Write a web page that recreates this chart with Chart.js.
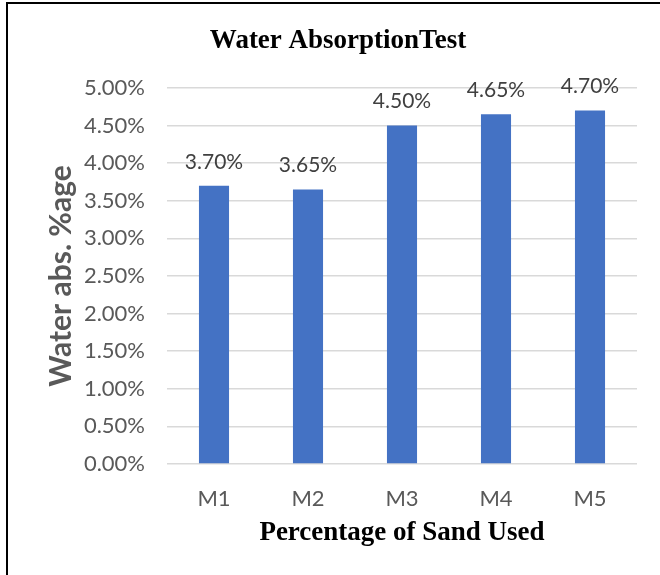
<!DOCTYPE html>
<html>
<head>
<meta charset="utf-8">
<script src="https://cdn.jsdelivr.net/npm/chart.js@4/dist/chart.umd.min.js"></script>
<style>
  body { margin: 0; background: #fff; }
  #wrap { width: 660px; height: 575px; position: relative; }
</style>
</head>
<body>
<div id="wrap"><canvas id="water-chart" width="660" height="575"></canvas></div>
<script>
const mixes = ['M1', 'M2', 'M3', 'M4', 'M5'];
const absorption = [3.70, 3.65, 4.50, 4.65, 4.70];
const chartTitle = 'Water AbsorptionTest';
const yTitle = 'Water abs. %age';
const xTitle = 'Percentage of Sand Used';

const sansFont = 'Lato, "Open Sans", sans-serif';
const serifFont = '"Liberation Serif", "Times New Roman", serif';

// frame like the one round the original figure
const framePlugin = {
    id: 'frame',
    afterDraw(chart) {
        const ctx = chart.ctx;
        ctx.save();
        ctx.strokeStyle = '#000';
        ctx.lineWidth = 2;
        ctx.beginPath();
        ctx.moveTo(7, chart.height);
        ctx.lineTo(7, 3);
        ctx.lineTo(chart.width, 3);
        ctx.stroke();
        ctx.restore();
    }
};

// value labels above each bar
const valueLabels = {
    id: 'valueLabels',
    afterDatasetsDraw(chart) {
        const ctx = chart.ctx;
        const meta = chart.getDatasetMeta(0);
        ctx.save();
        ctx.font = '21px ' + sansFont;
        ctx.fillStyle = '#404040';
        ctx.textAlign = 'center';
        ctx.textBaseline = 'middle';
        meta.data.forEach((bar, i) => {
            ctx.fillText(absorption[i].toFixed(2) + '%', bar.x, bar.y - 24);
        });
        ctx.restore();
    }
};

let ctx = document.getElementById('water-chart').getContext('2d');
window.waterChart = new Chart(ctx, {
    type: 'bar',
    data: {
        labels: mixes,
        datasets: [{
            data: absorption,
            backgroundColor: '#4472c4',
            categoryPercentage: 1,
            barPercentage: 0.32
        }]
    },
    options: {
        responsive: false,
        animation: false,
        layout: { padding: { left: 39, right: 23, top: 0, bottom: 20 } },
        plugins: {
            legend: { display: false },
            tooltip: { enabled: false },
            title: {
                display: true,
                text: chartTitle,
                color: '#000',
                font: { family: serifFont, size: 27, weight: 'bold' },
                padding: { top: 25, bottom: 30.6 }
            }
        },
        scales: {
            x: {
                grid: { display: false },
                border: { display: false },
                ticks: { color: '#595959', font: { family: sansFont, size: 22 }, padding: 14 },
                title: {
                    display: true,
                    text: xTitle,
                    color: '#000',
                    font: { family: serifFont, size: 27, weight: 'bold' },
                    padding: { top: 0, bottom: 6 }
                },
                afterFit: s => { s.height = 91; }
            },
            y: {
                min: 0,
                max: 5,
                ticks: {
                    stepSize: 0.5,
                    color: '#595959',
                    font: { family: sansFont, size: 22 },
                    padding: 22,
                    callback: v => v.toFixed(2) + '%'
                },
                grid: { color: '#d9d9d9', lineWidth: 1.5, drawTicks: false },
                border: { display: false },
                title: {
                    display: true,
                    text: yTitle,
                    color: '#595959',
                    font: { family: sansFont, size: 30, weight: 'bold' },
                    padding: { top: 4, bottom: 0 }
                },
                afterFit: s => { s.width = 128; }
            }
        }
    },
    plugins: [framePlugin, valueLabels]
});
</script>
</body>
</html>
